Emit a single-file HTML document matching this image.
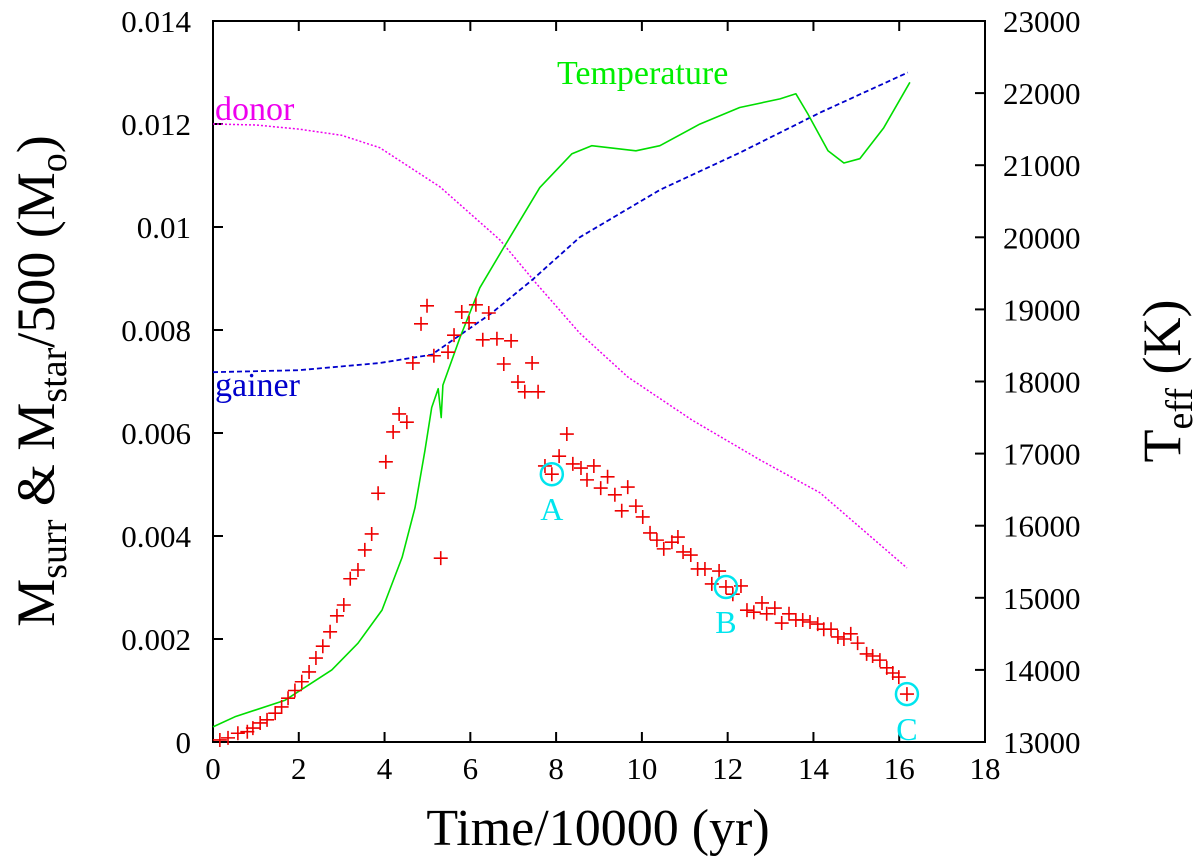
<!DOCTYPE html>
<html><head><meta charset="utf-8"><style>
html,body{margin:0;padding:0;background:#fff}
svg{display:block}
text{font-family:"Liberation Serif",serif}
</style></head><body>
<svg id="chart" width="1200" height="860" viewBox="0 0 1200 860" xmlns="http://www.w3.org/2000/svg">
<g id="axes"></g>
<g id="series"></g>
<text x="598" y="845" font-size="52" text-anchor="middle">Time/10000 (yr)</text>
<text transform="translate(54,381) rotate(-90)" font-size="54" text-anchor="middle">M<tspan font-size="38" dy="12">surr</tspan><tspan dy="-12"> &amp; M</tspan><tspan font-size="38" dy="12">star</tspan><tspan dy="-12">/500 (M</tspan><tspan font-size="38" dy="12">o</tspan><tspan dy="-12">)</tspan></text>
<text transform="translate(1180,381) rotate(-90)" font-size="54" text-anchor="middle">T<tspan font-size="38" dy="12">eff</tspan><tspan dy="-12"> (K)</tspan></text>
<text x="557" y="84" font-size="34" fill="#00ee00">Temperature</text>
<text x="215" y="120" font-size="34" fill="#ee00ee">donor</text>
<text x="215" y="396" font-size="34" fill="#0000cc">gainer</text>
</svg>
<script>
const xTicks=[0,2,4,6,8,10,12,14,16,18];
const yTicks=[0,0.002,0.004,0.006,0.008,0.01,0.012,0.014];
const yTickLabels=["0","0.002","0.004","0.006","0.008","0.01","0.012","0.014"];
const tTicks=[13000,14000,15000,16000,17000,18000,19000,20000,21000,22000,23000];
const surrT=[0.16,0.35,0.58,0.8,0.93,1.1,1.26,1.45,1.6,1.75,1.91,2.07,2.24,2.4,2.56,2.73,2.89,3.05,3.2,3.38,3.54,3.7,3.85,4.03,4.2,4.34,4.52,4.66,4.85,4.99,5.15,5.31,5.48,5.62,5.8,5.97,6.13,6.29,6.43,6.62,6.78,6.95,7.11,7.27,7.44,7.58,7.74,7.9,8.07,8.25,8.39,8.58,8.72,8.88,9.04,9.2,9.37,9.53,9.67,9.86,10.02,10.19,10.35,10.51,10.7,10.84,10.96,11.14,11.3,11.47,11.63,11.8,11.96,12.12,12.31,12.45,12.61,12.8,12.91,13.1,13.26,13.43,13.59,13.75,13.92,14.1,14.24,14.41,14.57,14.71,14.87,15.03,15.24,15.38,15.55,15.71,15.85,15.99,16.18];
const surrM=[0.00004,0.00008,0.00017,0.0002,0.00027,0.00037,0.00043,0.00056,0.00068,0.00085,0.001,0.00117,0.00136,0.00163,0.00186,0.00214,0.00245,0.00266,0.00317,0.00334,0.00373,0.00404,0.00483,0.00544,0.00602,0.00637,0.00621,0.00736,0.00812,0.00847,0.0075,0.00357,0.00757,0.0079,0.00835,0.00814,0.00849,0.00781,0.00833,0.00783,0.00734,0.00779,0.00699,0.0068,0.00736,0.0068,0.00536,0.0052,0.00555,0.00598,0.0054,0.00532,0.00509,0.00536,0.00493,0.00515,0.0048,0.00449,0.00495,0.00458,0.00437,0.00406,0.00392,0.00375,0.00388,0.00398,0.00369,0.00363,0.00336,0.00336,0.00307,0.00332,0.00301,0.00287,0.00303,0.00256,0.00252,0.0027,0.00249,0.0026,0.00231,0.00249,0.00237,0.00237,0.00233,0.00229,0.00219,0.00219,0.00204,0.002,0.0021,0.00192,0.00171,0.00167,0.00159,0.00144,0.00134,0.00126,0.00093];
const donorT=[0,1,2,3,3.89,5.29,6.69,7.53,8.55,9.67,11.17,12.75,14.15,16.18];
const donorM=[0.012,0.01198,0.0119,0.01178,0.01154,0.01078,0.00975,0.00891,0.00794,0.00709,0.00625,0.00548,0.00484,0.00338];
const gainerT=[0,2,3.89,5.1,6.5,7.44,8.55,10.42,12.28,14.15,16.2];
const gainerM=[0.00718,0.00722,0.00736,0.00752,0.00833,0.00897,0.0098,0.01072,0.01144,0.01222,0.013];
const tempT=[0,0.51,1.68,2.77,3.38,3.94,4.41,4.71,4.94,5.1,5.25,5.32,5.36,5.76,6.22,6.78,7.62,8.37,8.83,9.86,10.42,11.35,12.28,13.22,13.59,13.87,14.34,14.71,15.08,15.64,16.25];
const tempK=[13210,13350,13580,14000,14370,14830,15560,16250,17040,17640,17900,17500,17950,18610,19300,19860,20690,21160,21270,21200,21270,21570,21800,21920,21990,21710,21200,21030,21090,21520,22150];
const markerNames=["A","B","C"];
const markerT=[7.9,11.96,16.18];
const markerM=[0.0052,0.00301,0.00093];

const L=213,R=985,T=21,B=742;
const X=v=>L+v/18*(R-L);
const Y=v=>B-v/0.014*(B-T);
const YT=v=>B-(v-13000)/10000*(B-T);
const NS="http://www.w3.org/2000/svg";
function mk(tag,attrs,parent){const e=document.createElementNS(NS,tag);for(const k in attrs)e.setAttribute(k,attrs[k]);parent.appendChild(e);return e;}
const ax=document.getElementById('axes'), se=document.getElementById('series');
let e=mk('rect',{x:L,y:T,width:R-L,height:B-T,fill:'none',stroke:'#000','stroke-width':2},ax);


xTicks.forEach(v=>{
 const x=X(v);
 let t=mk('path',{d:`M${x},${B}v-10M${x},${T}v10`,stroke:'#000','stroke-width':2},ax);
 
 
 let l=mk('text',{x:x,y:B+37,'font-size':31,'text-anchor':'middle'},ax);l.textContent=v;
 
 
});
yTicks.forEach((v,i)=>{
 const y=Y(v);
 let t=mk('path',{d:`M${L},${y}h10`,stroke:'#000','stroke-width':2},ax);
 
 
 let l=mk('text',{x:191,y:y+11,'font-size':31,'text-anchor':'end'},ax);l.textContent=yTickLabels[i];
 
 
});
tTicks.forEach(v=>{
 const y=YT(v);
 let t=mk('path',{d:`M${R},${y}h-10`,stroke:'#000','stroke-width':2},ax);
 
 
 let l=mk('text',{x:1003,y:y+11,'font-size':31},ax);l.textContent=v;
 
 
});
function line(xs,ys,yf,color,dash,name,w){
 const d=xs.map((v,i)=>(i?'L':'M')+X(v).toFixed(1)+','+yf(ys[i]).toFixed(1)).join('');
 const p=mk('path',{d:d,fill:'none',stroke:color,'stroke-width':w,'stroke-dasharray':dash,'stroke-linejoin':'round'},se);
 
 
}
line(donorT,donorM,Y,'#ee00ee','2,2','donor-line',1.5);
line(gainerT,gainerM,Y,'#0000cc','5,3','gainer-line',1.8);
line(tempT,tempK,YT,'#00dd00','none','temperature-line',1.6);
surrT.forEach((t,i)=>{
 const x=X(t),y=Y(surrM[i]);
 const p=mk('path',{d:`M${x-7},${y}h14M${x},${y-7}v14`,stroke:'#ee0000','stroke-width':1.6},se);
 
 
});
markerNames.forEach((n,i)=>{
 const x=X(markerT[i]),y=Y(markerM[i]);
 const c=mk('circle',{cx:x,cy:y,r:11,fill:'none',stroke:'#00e5ee','stroke-width':2.5},se);
 
 
 const l=mk('text',{x:x,y:y+46,'font-size':32,fill:'#00e5ee','text-anchor':'middle'},se);l.textContent=n;
 
 
});
</script>
</body></html>
